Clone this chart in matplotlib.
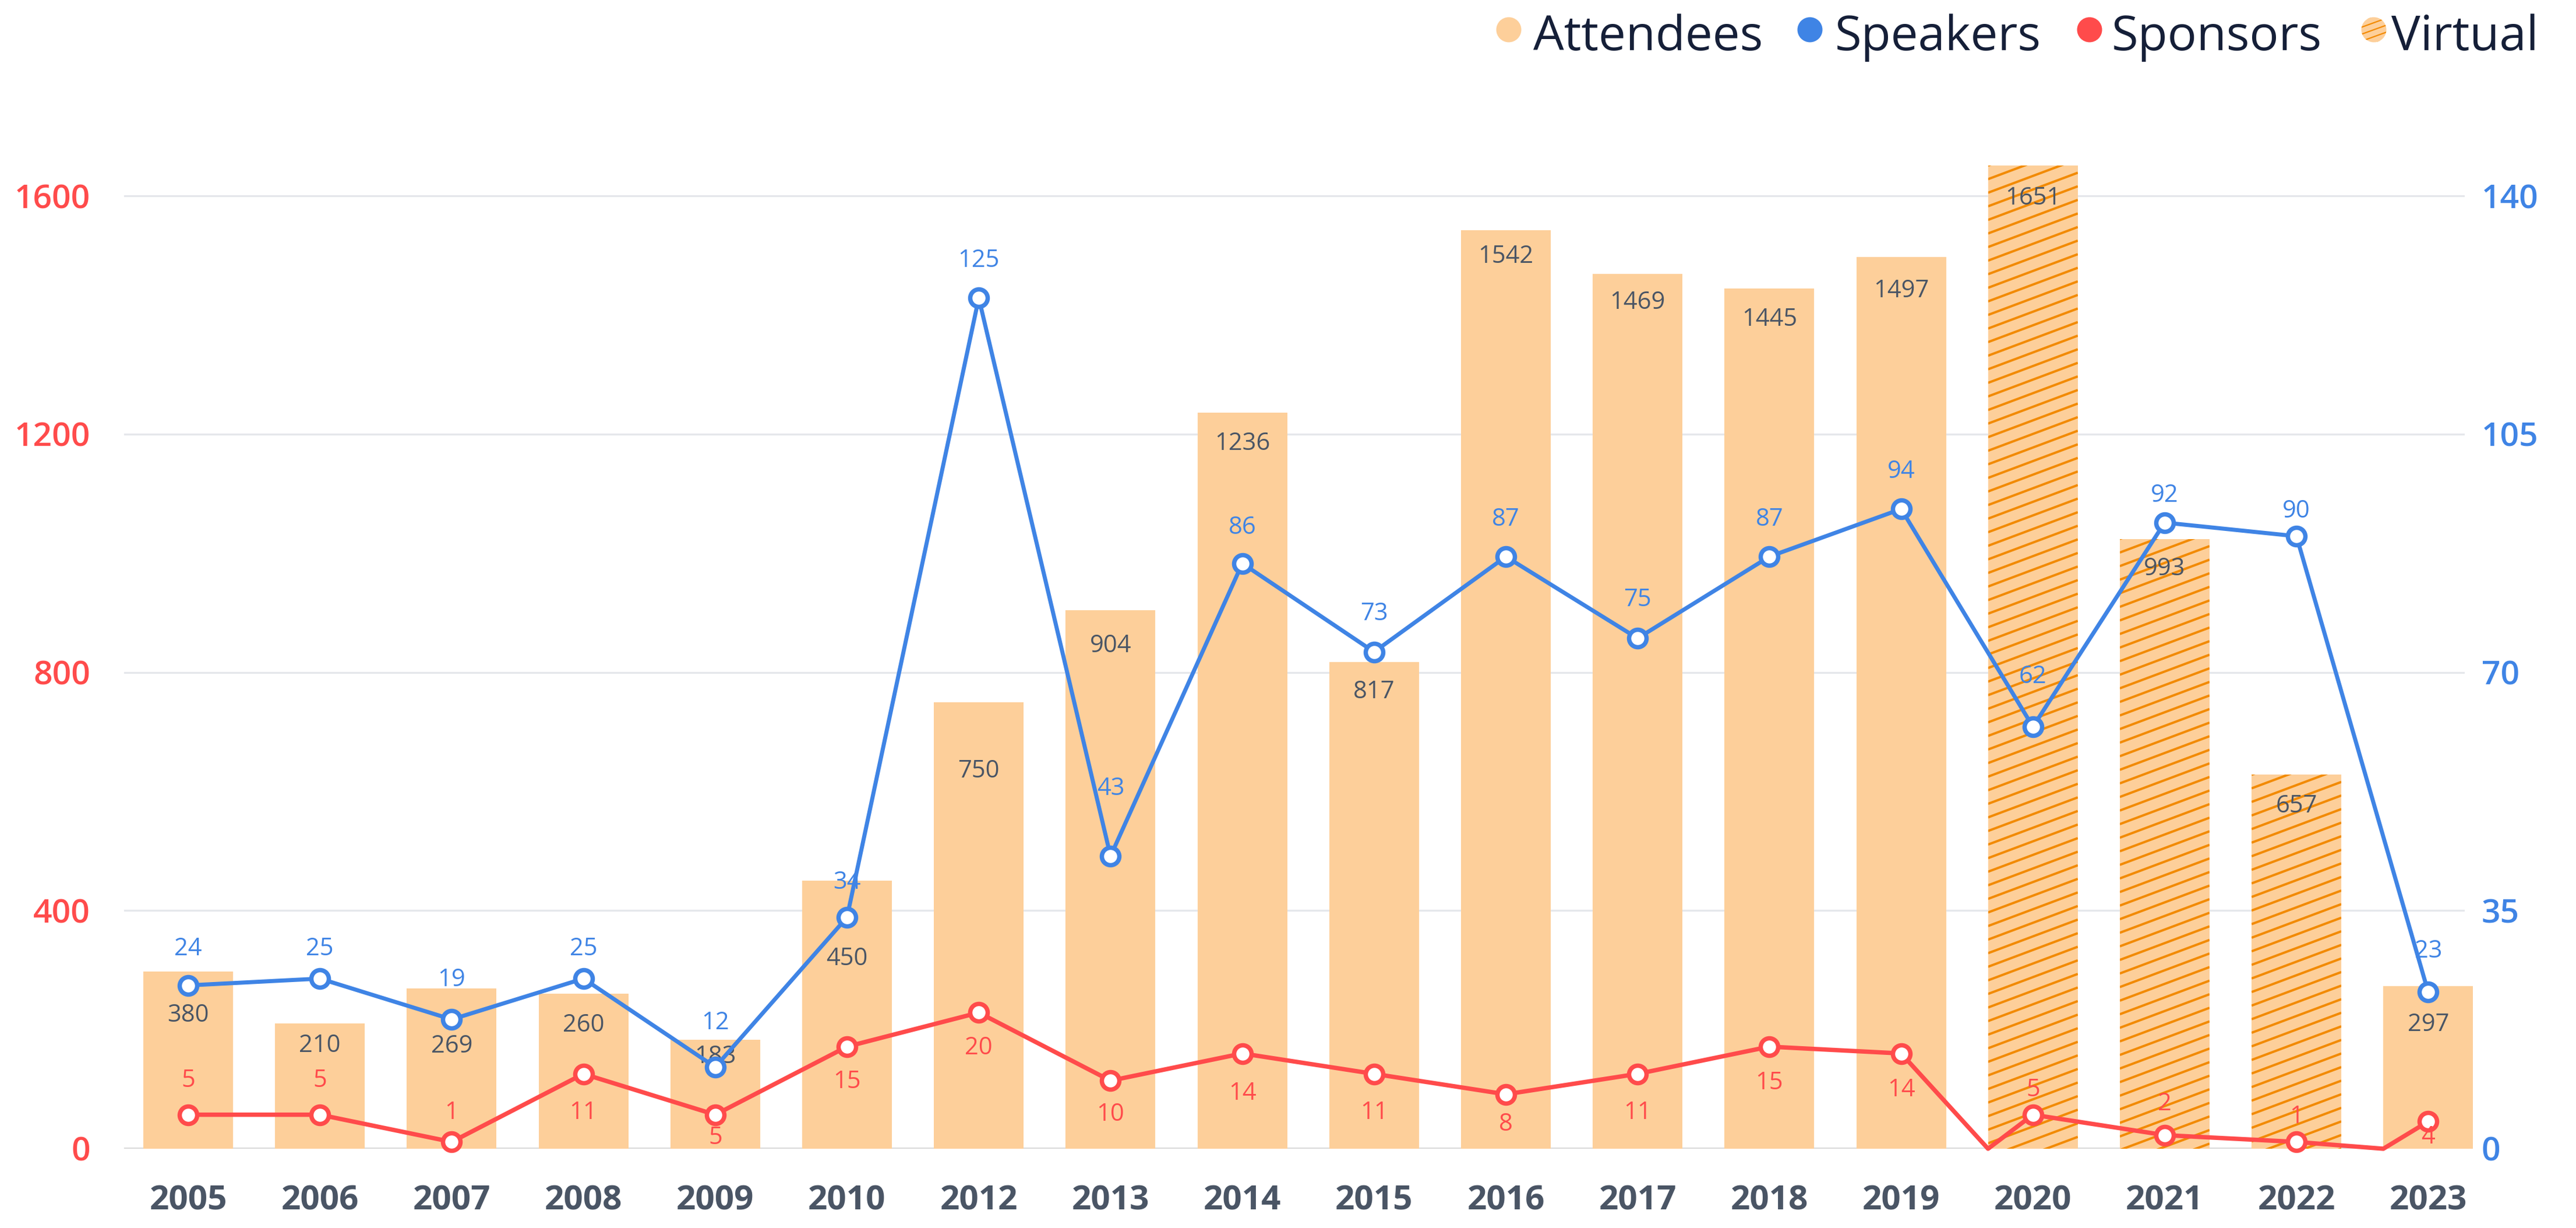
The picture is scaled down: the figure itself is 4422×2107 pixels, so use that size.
"""
Conference history chart: attendees (bars, left axis) with speakers and
sponsors (lines, right axis). Virtual editions drawn with a hatch.
"""

import numpy as np
import matplotlib
matplotlib.use("Agg")
import matplotlib.pyplot as plt
from matplotlib.patches import Circle
from matplotlib.collections import LineCollection
from matplotlib.transforms import IdentityTransform

plt.rcParams["font.family"] = ["Open Sans", "DejaVu Sans"]

# ── Data ──────────────────────────────────────────────────────────────────────
years = ["2005", "2006", "2007", "2008", "2009", "2010", "2012", "2013", "2014",
         "2015", "2016", "2017", "2018", "2019", "2020", "2021", "2022", "2023"]
attendees = [298, 210, 269, 260, 183, 450, 750, 904, 1236,
             817, 1542, 1469, 1445, 1497, 1651, 1024, 628, 273]
attendee_labels = [380, 210, 269, 260, 183, 450, 750, 904, 1236,
                   817, 1542, 1469, 1445, 1497, 1651, 993, 657, 297]
speakers = [24, 25, 19, 25, 12, 34, 125, 43, 86, 73, 87, 75, 87, 94, 62, 92, 90, 23]
sponsors = [5, 5, 1, 11, 5, 15, 20, 10, 14, 11, 8, 11, 15, 14, 5, 2, 1, 4]
virtual_years = ["2020", "2021", "2022"]
sponsor_zero_before = ["2020", "2023"]   # sponsor line touches 0 at these bars' left edge
left_ticks = [0, 400, 800, 1200, 1600]
right_ticks = [0, 35, 70, 105, 140]

# ── Label placement (pixels) ─────────────────────────────────────────────────
bar_label_drop = [75, 38, 99, 54, 29, 134, 118, 61, 53, 51, 45, 49, 53, 58, 56, 51, 54, 66]
speaker_label_rise = [63, 51, 68, 51, 76, 60, 64, 116, 62, 66, 64, 66, 64, 64, 86, 47, 43, 70]
sponsor_label_rise = [59, 59, 50, -66, -39, -60, -61, -58, -68, -66, -51, -66, -62, -62,
                      43, 54, 43, -27]

# ── Style ─────────────────────────────────────────────────────────────────────
W, H, DPI = 4422, 2107, 100
PT = 72 / DPI                      # pixels -> points
BAR_W = 0.681
C_BAR = "#FDCF9A"
C_HATCH = "#F28A00"
C_BLUE = "#3F84E5"
C_RED = "#FF4B4B"
C_TEXT = "#4A5565"
C_LEGEND = "#151F38"

fig = plt.figure(figsize=(W / DPI, H / DPI), dpi=DPI)
ax = fig.add_axes([213 / W, (H - 1971) / H, (4231 - 213) / W, (1971 - 234) / H])
ax.set_xlim(-0.4863, 17.277)
ax.set_ylim(0, 1700)
ax2 = ax.twinx()
ax2.set_ylim(0, 1700 * 140 / 1600)

x = np.arange(len(years))

# ── Grid ──────────────────────────────────────────────────────────────────────
for t in left_ticks[1:]:
    ax.axhline(t, color="#E5E7EB", lw=3.3 * PT, zorder=0)
ax.axhline(0, color="#D9D9D9", lw=4 * PT, zorder=0)

# ── Bars ──────────────────────────────────────────────────────────────────────
bars = ax.bar(x, attendees, width=BAR_W, color=C_BAR, zorder=2, clip_on=False)


def hatch_patch(axis, patch, spacing, slope, lw, zorder):
    bb = patch.get_window_extent()
    w = bb.x1 - bb.x0
    segs = []
    y = bb.y1 + spacing
    while y > bb.y0 - slope * w - spacing:
        segs.append([(bb.x0, y), (bb.x1, y + slope * w)])
        y -= spacing
    lc = LineCollection(segs, colors=C_HATCH, linewidths=lw, transform=IdentityTransform(),
                        zorder=zorder)
    axis.add_collection(lc, autolim=False)
    lc.set_clip_path(patch)   # after add_collection, which would reset it to the axes


for yr, b in zip(years, bars):
    if yr in virtual_years:
        hatch_patch(ax, b, 23.3, 0.374, 4 * PT, 2.5)

for i, (h, lab) in enumerate(zip(attendees, attendee_labels)):
    ax.annotate(str(lab), (i, h), xytext=(0, -bar_label_drop[i] * PT), textcoords="offset points",
                ha="center", va="center", fontsize=30, color=C_TEXT, zorder=3)

# ── Lines ─────────────────────────────────────────────────────────────────────
sp_x, sp_y = [], []
for i, (yr, v) in enumerate(zip(years, sponsors)):
    if yr in sponsor_zero_before:
        sp_x.append(i - BAR_W / 2)
        sp_y.append(0)
    sp_x.append(i)
    sp_y.append(v)

ax2.plot(x, speakers, color=C_BLUE, lw=7 * PT, zorder=3, clip_on=False)
ax2.plot(sp_x, sp_y, color=C_RED, lw=7.5 * PT, zorder=3, clip_on=False)
ax2.plot(x, speakers, ls="none", marker="o", ms=30 * PT, mew=7.5 * PT,
         mfc="white", mec=C_BLUE, zorder=4, clip_on=False)
ax2.plot(x, sponsors, ls="none", marker="o", ms=30 * PT, mew=7.5 * PT,
         mfc="white", mec=C_RED, zorder=4, clip_on=False)

for i, v in enumerate(speakers):
    ax2.annotate(str(v), (i, v), xytext=(0, speaker_label_rise[i] * PT), textcoords="offset points",
                 ha="center", va="center", fontsize=30, color=C_BLUE, zorder=5)
for i, v in enumerate(sponsors):
    ax2.annotate(str(v), (i, v), xytext=(0, sponsor_label_rise[i] * PT), textcoords="offset points",
                 ha="center", va="center", fontsize=30, color=C_RED, zorder=5)

# ── Axes cosmetics ────────────────────────────────────────────────────────────
ax.set_xticks(x, years)
ax.set_yticks(left_ticks)
ax2.set_yticks(right_ticks)
ax.tick_params(axis="x", length=0, pad=60 * PT, labelsize=42, labelcolor=C_TEXT)
ax.tick_params(axis="y", length=0, pad=58 * PT, labelsize=41, labelcolor=C_RED)
ax2.tick_params(axis="y", length=0, pad=29 * PT, labelsize=41, labelcolor=C_BLUE)
for lbl in ax.get_xticklabels():
    lbl.set_fontweight("bold")
for lbl in ax.get_yticklabels() + ax2.get_yticklabels():
    lbl.set_fontweight("semibold")
for a in (ax, ax2):
    for s in a.spines.values():
        s.set_visible(False)
ax.set_zorder(1)
ax2.set_zorder(2)
ax.patch.set_visible(False)

# ── Legend (pixel coordinates) ───────────────────────────────────────────────
lax = fig.add_axes([0, 0, 1, 1], zorder=5)
lax.set_xlim(0, W)
lax.set_ylim(H, 0)
lax.axis("off")

legend_items = ["Attendees", "Speakers", "Sponsors", "Virtual"]
legend_colors = [C_BAR, C_BLUE, C_RED, C_BAR]
legend_marker_x = [2590, 3107, 3587, 4075]
legend_text_x = [2632, 3150, 3625, 4105]
for name, col, mx, tx in zip(legend_items, legend_colors, legend_marker_x, legend_text_x):
    dot = Circle((mx, 51), 21.5, facecolor=col, edgecolor="none")
    lax.add_patch(dot)
    if name == "Virtual":
        segs = []
        for k in range(-6, 7):
            y0 = 51 + k * 12
            segs.append([(mx - 22, y0 + 8), (mx + 22, y0 - 8)])
        lc = LineCollection(segs, colors=C_HATCH, linewidths=2.2 * PT)
        lax.add_collection(lc)
        lc.set_clip_path(dot)
    lax.text(tx, 86, name, fontsize=60, color=C_LEGEND, ha="left", va="baseline")

fig.savefig("out.png", dpi=DPI)
